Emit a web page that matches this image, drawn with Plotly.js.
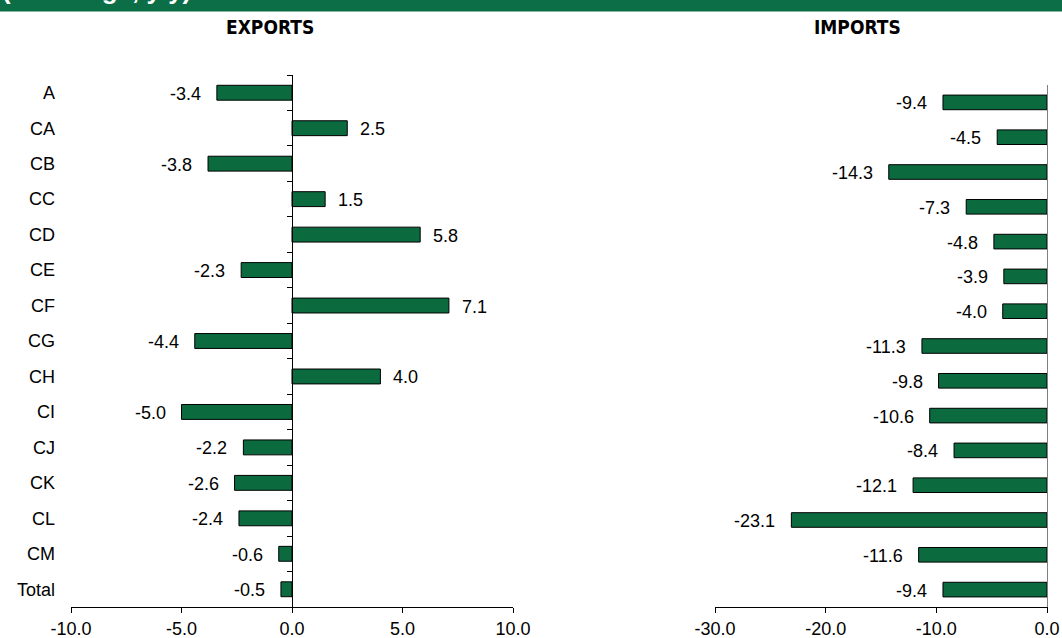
<!DOCTYPE html>
<html>
<head>
<meta charset="utf-8">
<script src="https://cdn.plot.ly/plotly-3.0.1.min.js"></script>
<style>
  html, body { margin: 0; padding: 0; background: #ffffff; }
  #chart { width: 1062px; height: 638px; }
</style>
</head>
<body>
<div id="chart"></div>
<script>
// ---- data ----
const categories = ['A','CA','CB','CC','CD','CE','CF','CG','CH','CI','CJ','CK','CL','CM','Total'];
const exportsValues = [-3.4, 2.5, -3.8, 1.5, 5.8, -2.3, 7.1, -4.4, 4.0, -5.0, -2.2, -2.6, -2.4, -0.6, -0.5];
const importsValues = [-9.4, -4.5, -14.3, -7.3, -4.8, -3.9, -4.0, -11.3, -9.8, -10.6, -8.4, -12.1, -23.1, -11.6, -9.4];
const exportsTicks = [-10, -5, 0, 5, 10];
const importsTicks = [-30, -20, -10, 0];
const panelTitles = ['EXPORTS', 'IMPORTS'];
const bannerText = '(% change, y/y)';

// ---- style ----
const W = 1062, H = 638;
const barColor = '#0b6b3f';
const bannerColor = '#0b6e46';
const baseFont = 'Liberation Sans, Arial, sans-serif';
const titleFont = 'DejaVu Sans Condensed, Liberation Sans Narrow, Arial Narrow, sans-serif';
const fontSize = 18;

const xDom1 = [71 / W, 513 / W];
const xDom2 = [715 / W, 1047 / W];
const yDom1 = [1 - 607 / H, 1 - 75 / H];
const yDom2 = [1 - 607 / H, 1 - 85 / H];
const xRange1 = [-10, 10];
const xRange2 = [-30, 0];
const zeroPos1 = xDom1[0] + (0 - xRange1[0]) / (xRange1[1] - xRange1[0]) * (xDom1[1] - xDom1[0]);
const catRange = [categories.length - 0.5, -0.5];

function fmt(v) { return v.toFixed(1); }

const barTrace = (vals, xa, ya, op) => ({
  type: 'bar', orientation: 'h',
  x: vals, y: categories,
  xaxis: xa, yaxis: ya,
  width: 0.42,
  marker: { color: barColor, opacity: op, line: { color: '#000000', width: 1 } },
  hoverinfo: 'skip', showlegend: false
});

const data = [
  barTrace(exportsValues, 'x', 'y', 1),
  barTrace(exportsValues, 'x', 'y3', 0),
  barTrace(importsValues, 'x2', 'y2', 1)
];

const annotations = [];
function addLabels(vals, xref, yref) {
  vals.forEach((v, i) => {
    annotations.push({
      x: v, y: categories[i], xref: xref, yref: yref,
      text: fmt(v), showarrow: false,
      xanchor: v < 0 ? 'right' : 'left', yanchor: 'middle',
      xshift: v < 0 ? -14 : 11, yshift: -1,
      font: { family: baseFont, size: fontSize, color: '#000' }
    });
  });
}
addLabels(exportsValues, 'x', 'y');
addLabels(importsValues, 'x2', 'y2');

[[panelTitles[0], 270], [panelTitles[1], 857]].forEach(([t, px]) => {
  annotations.push({
    x: px / W, y: 1 - 27 / H, xref: 'paper', yref: 'paper',
    text: t, showarrow: false, xanchor: 'center', yanchor: 'middle',
    font: { family: titleFont, size: 19, color: '#000', weight: 'bold' }
  });
});
annotations.push({
  x: 0, y: 1 - 7 / H, xref: 'paper', yref: 'paper',
  text: bannerText, showarrow: false, xanchor: 'left', yanchor: 'bottom',
  font: { family: baseFont, size: 26, color: '#ffffff', weight: 'bold' }
});

const xAxisCommon = {
  showline: true, linecolor: '#000', linewidth: 1,
  ticks: 'outside', ticklen: 5, tickcolor: '#000', tickwidth: 1,
  showgrid: false, zeroline: false,
  tickfont: { family: baseFont, size: fontSize, color: '#000' },
  fixedrange: true, automargin: false
};

const layout = {
  width: W, height: H,
  margin: { l: 0, r: 0, t: 0, b: 0 },
  paper_bgcolor: '#ffffff', plot_bgcolor: 'rgba(0,0,0,0)',
  font: { family: baseFont, size: fontSize, color: '#000' },
  showlegend: false,
  xaxis: Object.assign({}, xAxisCommon, {
    domain: xDom1, range: xRange1, tickvals: exportsTicks, ticktext: exportsTicks.map(fmt), anchor: 'y'
  }),
  yaxis: {
    domain: yDom1, type: 'category', categoryorder: 'array', categoryarray: categories,
    range: catRange, anchor: 'x', showline: false, ticks: '', showgrid: false, zeroline: false,
    ticklabelstandoff: 15,
    tickfont: { family: baseFont, size: fontSize, color: '#000' },
    fixedrange: true, automargin: false
  },
  yaxis3: {
    overlaying: 'y', anchor: 'free', position: zeroPos1,
    type: 'category', categoryorder: 'array', categoryarray: categories, range: catRange,
    showline: true, linecolor: '#000', linewidth: 1,
    ticks: 'outside', tickson: 'boundaries', ticklen: 5, tickcolor: '#000',
    showticklabels: false, showgrid: false, zeroline: false,
    fixedrange: true, automargin: false
  },
  xaxis2: Object.assign({}, xAxisCommon, {
    domain: xDom2, range: xRange2, tickvals: importsTicks, ticktext: importsTicks.map(fmt), anchor: 'y2'
  }),
  yaxis2: {
    domain: yDom2, type: 'category', categoryorder: 'array', categoryarray: categories,
    range: catRange, anchor: 'x2', side: 'right',
    showline: true, linecolor: '#808080', linewidth: 1,
    ticks: '', showticklabels: false, showgrid: false, zeroline: false,
    fixedrange: true, automargin: false
  },
  shapes: [{
    type: 'rect', xref: 'paper', yref: 'paper',
    x0: 0, x1: 1, y0: 1 - 11.5 / H, y1: 1,
    fillcolor: bannerColor, line: { width: 0 }, layer: 'below'
  }],
  annotations: annotations
};

Plotly.newPlot('chart', data, layout, { staticPlot: true, displayModeBar: false });
</script>
</body>
</html>
